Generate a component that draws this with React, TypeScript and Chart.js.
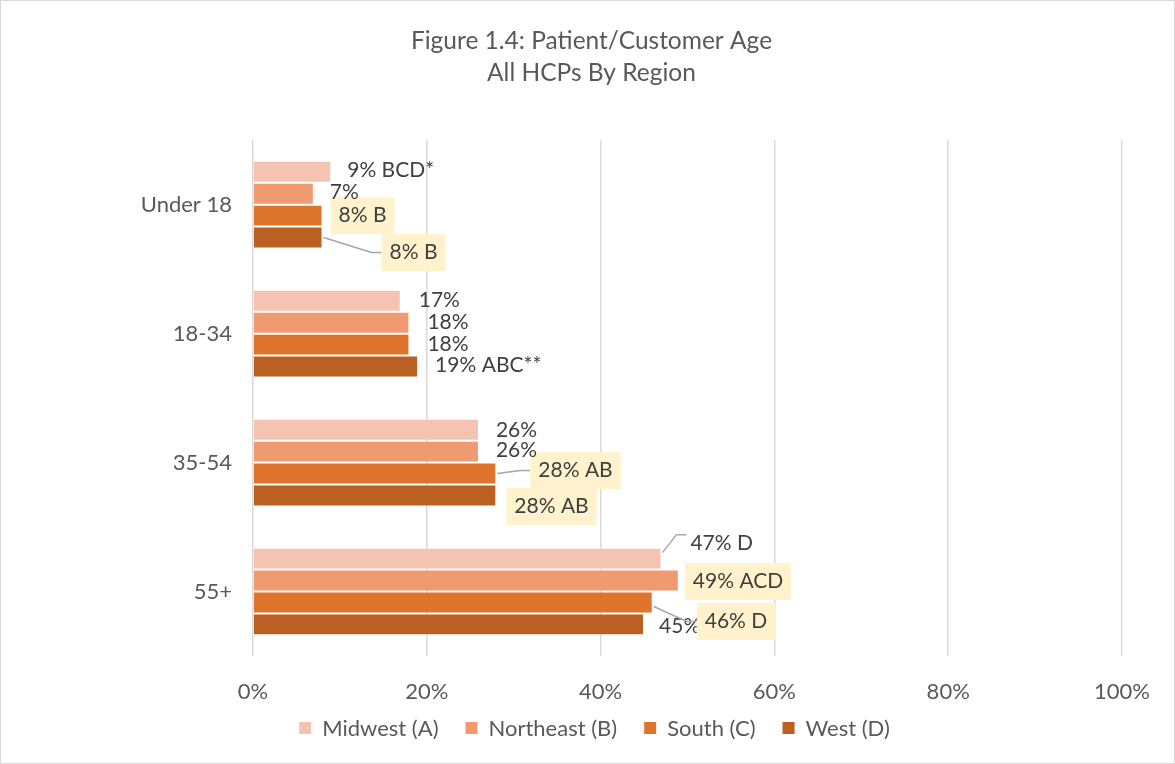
import React, { useEffect, useRef } from "react";
import { Chart, registerables } from "chart.js";

Chart.register(...registerables);

const categories = ["Under 18", "18-34", "35-54", "55+"];
const seriesNames = ["Midwest (A)", "Northeast (B)", "South (C)", "West (D)"];
const midwest = [9, 17, 26, 47];
const northeast = [7, 18, 26, 49];
const south = [8, 18, 28, 46];
const west = [8, 19, 28, 45];
const midwestLabels = ["9% BCD*", "17%", "26%", "47% D"];
const northeastLabels = ["7%", "18%", "26%", "49% ACD"];
const southLabels = ["8% B", "18%", "28% AB", "46% D"];
const westLabels = ["8% B", "19% ABC**", "28% AB", "45%"];
const xTickValues = [0, 20, 40, 60, 80, 100];

const colors = ["#F5C3B2", "#F09A72", "#DF742D", "#BA6022"];
const FONT = "Lato, 'Open Sans', sans-serif";

// label placement relative to bar end / bar centre
type Place = { dx: number; dy: number; box?: boolean; leader?: boolean; ldy?: number; sdy?: number; back?: boolean };
const placements: Place[][] = [
  [{ dx: 16, dy: -2 }, { dx: 18, dy: -1 }, { dx: 17, dy: 1 }, { dx: 29, dy: -15, leader: true, ldy: -9, sdy: -6 }],
  [{ dx: 16, dy: -2 }, { dx: 18, dy: 0 }, { dx: 17, dy: -1 }, { dx: 14, dy: 1, box: true }],
  [{ dx: 16, dy: 0, box: true }, { dx: 18, dy: 0 }, { dx: 42, dy: -3, box: true, leader: true }, { dx: 52, dy: 19, box: true, leader: true, sdy: 4 }],
  [{ dx: 67, dy: 15, box: true, leader: true }, { dx: 17, dy: -1 }, { dx: 18, dy: 11, box: true }, { dx: 15, dy: 2, back: true }],
];
const allLabels = [midwestLabels, northeastLabels, southLabels, westLabels];

const labelPlugin = {
  id: "customLabels",
  afterDatasetsDraw(chart: any) {
    const ctx = chart.ctx;
    ctx.save();
    ctx.font = `21px ${FONT}`;
    ctx.textBaseline = "middle";
    ctx.textAlign = "left";
    const items: any[] = [];
    chart.data.datasets.forEach((_: any, di: number) => {
      const meta = chart.getDatasetMeta(di);
      meta.data.forEach((el: any, ci: number) => {
        const p = placements[di][ci];
        const text = allLabels[di][ci];
        const tx = el.x + p.dx;
        const ty = el.y + p.dy;
        const w = ctx.measureText(text).width;
        items.push({ el, p, text, tx, ty, w });
      });
    });
    ctx.fillStyle = "#404040";
    items.filter((i) => !i.p.box && i.p.back).forEach((i) => ctx.fillText(i.text, i.tx, i.ty));
    ctx.strokeStyle = "#A6A6A6";
    ctx.lineWidth = 1.5;
    items.filter((i) => i.p.leader).forEach((i) => {
      const targetX = i.p.box ? i.tx - 8 : i.tx - 4;
      const targetY = i.ty + (i.p.ldy || 0);
      ctx.beginPath();
      ctx.moveTo(i.el.x + 1, i.el.y + (i.p.sdy || 0));
      ctx.lineTo(targetX - 10, targetY);
      ctx.lineTo(targetX, targetY);
      ctx.stroke();
    });
    items.filter((i) => i.p.box).forEach((i) => {
      ctx.fillStyle = "#FFF2CC";
      ctx.fillRect(i.tx - 8, i.ty - 18.5, i.w + 16, 37);
      ctx.fillStyle = "#404040";
      ctx.fillText(i.text, i.tx, i.ty);
    });
    ctx.fillStyle = "#404040";
    items.filter((i) => !i.p.box && !i.p.back).forEach((i) => ctx.fillText(i.text, i.tx, i.ty));
    ctx.restore();
  },
};

// legend drawn below the x-axis labels, centred under the title
const legendPlugin = {
  id: "customLegend",
  afterDraw(chart: any) {
    const ctx = chart.ctx;
    ctx.save();
    ctx.font = `22px ${FONT}`;
    ctx.textBaseline = "middle";
    ctx.textAlign = "left";
    const box = 12, gapBox = 11, gapItem = 27;
    const ds = chart.data.datasets;
    const widths = ds.map((d: any) => box + gapBox + ctx.measureText(d.label).width);
    const total = widths.reduce((a: number, b: number) => a + b, 0) + gapItem * (ds.length - 1);
    let x = chart.titleBlock.left + chart.titleBlock.width / 2 + 3 - total / 2;
    const y = chart.height - 35;
    ds.forEach((d: any, i: number) => {
      ctx.fillStyle = d.backgroundColor;
      ctx.fillRect(x, y - box / 2, box, box);
      ctx.fillStyle = "#595959";
      ctx.fillText(d.label, x + box + gapBox, y + 1);
      x += widths[i] + gapItem;
    });
    ctx.restore();
  },
};

export default function App() {
  const ref = useRef<HTMLCanvasElement>(null);
  useEffect(() => {
    document.body.style.margin = "0";
    const seriesData = [midwest, northeast, south, west];
    const chart = new Chart(ref.current!, {
      type: "bar",
      data: {
        labels: categories,
        datasets: seriesData.map((d, i) => ({
          label: seriesNames[i],
          data: d,
          backgroundColor: colors[i],
          borderColor: "rgba(255,255,255,0.22)",
          borderWidth: 1,
          categoryPercentage: 0.68,
          barPercentage: 1,
        })),
      },
      options: {
        indexAxis: "y",
        responsive: false,
        animation: false,
        layout: { padding: { top: 15, right: 52, left: 60, bottom: 57 } },
        scales: {
          x: {
            min: 0,
            max: 100,
            afterBuildTicks: (s: any) => {
              s.ticks = xTickValues.map((v) => ({ value: v }));
            },
            ticks: {
              callback: (v: any) => v + "%",
              color: "#595959",
              font: { family: FONT, size: 22 },
              padding: 23,
            },
            grid: { color: "#D9D9D9", lineWidth: 1.5, drawTicks: false },
            border: { display: false },
            afterFit: (s: any) => {
              s.height = 50;
            },
          },
          y: {
            ticks: {
              color: "#595959",
              font: { family: FONT, size: 22 },
              padding: 21,
            },
            grid: { display: false, drawTicks: false },
            border: { display: false },
            afterFit: (s: any) => {
              s.width = 192;
            },
          },
        },
        plugins: {
          title: {
            display: true,
            text: ["Figure 1.4: Patient/Customer Age", "All HCPs By Region"],
            color: "#595959",
            font: { family: FONT, size: 24.5, weight: "normal", lineHeight: 1.27 },
            padding: { top: 10, bottom: 52 },
          },
          legend: { display: false },
          tooltip: { enabled: false },
        },
      },
      plugins: [labelPlugin, legendPlugin],
    });
    return () => chart.destroy();
  }, []);
  return (
    <div style={{ width: 1175, height: 764, border: "1px solid #D9D9D9", boxSizing: "border-box", background: "#fff" }}>
      <canvas ref={ref} width={1173} height={762} />
    </div>
  );
}
